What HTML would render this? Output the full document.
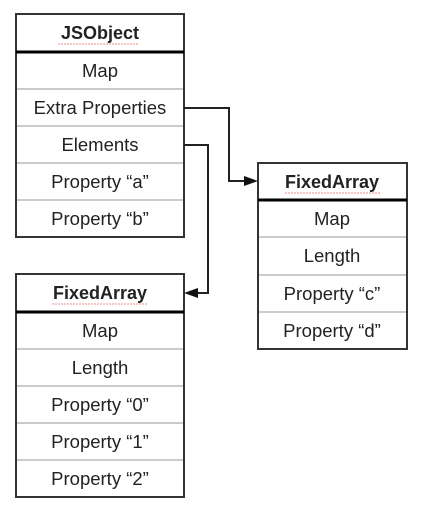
<!DOCTYPE html>
<html><head><meta charset="utf-8"><style>
html,body{margin:0;padding:0;background:#fff;width:427px;height:506px;overflow:hidden}
text{font-family:"Liberation Sans",Arial,sans-serif;font-size:18.5px;fill:#222;text-anchor:middle}
.h{font-weight:bold;font-size:18px}
</style></head><body>
<svg width="427" height="506" viewBox="0 0 427 506" xmlns="http://www.w3.org/2000/svg">
<g fill="none" stroke="#999" stroke-width="1">
<line x1="16" y1="89" x2="184" y2="89"/><line x1="16" y1="126" x2="184" y2="126"/><line x1="16" y1="163" x2="184" y2="163"/><line x1="16" y1="200" x2="184" y2="200"/>
<line x1="258" y1="237" x2="407" y2="237"/><line x1="258" y1="275" x2="407" y2="275"/><line x1="258" y1="312" x2="407" y2="312"/>
<line x1="16" y1="349" x2="184" y2="349"/><line x1="16" y1="386" x2="184" y2="386"/><line x1="16" y1="423" x2="184" y2="423"/><line x1="16" y1="460" x2="184" y2="460"/>
</g>
<g fill="none" stroke="#333" stroke-width="2">
<rect x="16" y="14" width="168" height="223"/>
<rect x="258" y="163" width="149" height="186"/>
<rect x="16" y="274" width="168" height="223"/>
</g>
<g stroke="#000" stroke-width="3">
<line x1="16" y1="52" x2="184" y2="52"/><line x1="258" y1="200" x2="407" y2="200"/><line x1="16" y1="312" x2="184" y2="312"/>
</g>
<g fill="none" stroke="#e66" stroke-width="0.8" stroke-dasharray="2 1">
<line x1="58" y1="44" x2="139" y2="44"/><line x1="285" y1="193" x2="380" y2="193"/><line x1="52" y1="304" x2="148" y2="304"/>
</g>
<g fill="none" stroke="#222" stroke-width="2">
<polyline points="184,108 229,108 229,181 246,181"/>
<polyline points="184,145 208,145 208,293 196,293"/>
</g>
<polygon points="258,181 244,176 244,186" fill="#111"/>
<polygon points="184,293 198,288 198,298" fill="#111"/>
<text class="h" x="100" y="39">JSObject</text>
<text x="100" y="77">Map</text>
<text x="100" y="114">Extra Properties</text>
<text x="100" y="151">Elements</text>
<text x="100" y="188">Property “a”</text>
<text x="100" y="225">Property “b”</text>
<text class="h" x="332" y="188">FixedArray</text>
<text x="332" y="225">Map</text>
<text x="332" y="262">Length</text>
<text x="332" y="300">Property “c”</text>
<text x="332" y="337">Property “d”</text>
<text class="h" x="100" y="299">FixedArray</text>
<text x="100" y="337">Map</text>
<text x="100" y="374">Length</text>
<text x="100" y="411">Property “0”</text>
<text x="100" y="448">Property “1”</text>
<text x="100" y="485">Property “2”</text>
</svg>
</body></html>
